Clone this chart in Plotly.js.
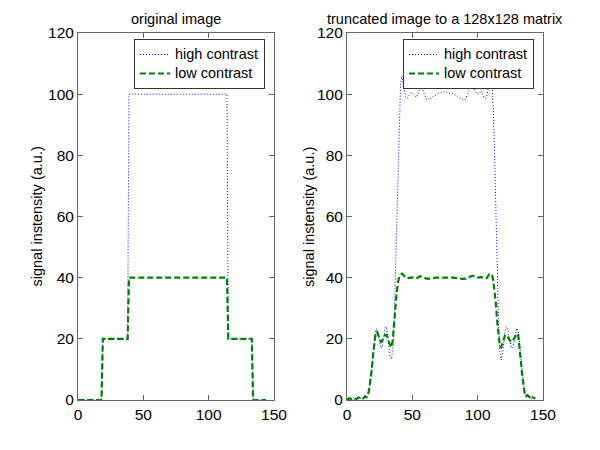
<!DOCTYPE html>
<html>
<head>
<meta charset="utf-8">
<script src="https://cdn.plot.ly/plotly-3.0.1.min.js"></script>
<style>html,body{margin:0;padding:0;background:#fff;}#chart{width:600px;height:450px;}</style>
</head>
<body>
<div id="chart"></div>
<script>
// Left panel: original image profile (step function breakpoints)
const xOrig = [0, 18, 19, 38, 39, 114, 115, 133, 134, 144];
const highOrig = [0, 0, 20, 20, 100, 100, 20, 20, 0, 0];
const lowOrig = [0, 0, 20, 20, 40, 40, 20, 20, 0, 0];

// Right panel: truncated image (128x128) profile
const xTrunc = [
  0,1,2,3,4,5,6,7,8,9,
  10,11,12,13,14,15,16,17,18,19,
  20,21,22,23,24,25,26,27,28,29,
  30,31,32,33,34,35,36,37,38,39,
  40,41,42,43,44,45,46,47,48,49,
  50,51,52,53,54,55,56,57,58,59,
  60,61,62,63,64,65,66,67,68,69,
  70,71,72,73,74,75,76,77,78,79,
  80,81,82,83,84,85,86,87,88,89,
  90,91,92,93,94,95,96,97,98,99,
  100,101,102,103,104,105,106,107,108,109,
  110,111,112,113,114,115,116,117,118,119,
  120,121,122,123,124,125,126,127,128,129,
  130,131,132,133,134,135,136,137,138,139,
  140,141,142,143,144
];
const highTrunc = [
  0.5,0.3,0.8,0.2,0.6,0.9,0.4,0.2,0.7,1.0,
  0.6,0.3,0.5,1.2,1.5,1.0,1.5,3.5,6.5,10.5,
  15.5,20,23,23.3,21.5,18.5,16.9,17.5,20,23,
  24,22,17.5,14.5,13.4,16,24,40,60,80,
  95,103,106,103.5,100.3,98.8,98.6,99.2,100.2,100.5,
  100.3,99.8,99.2,99,99.8,101.2,101.9,101.8,101.4,100.3,
  99,98.1,98.3,98.8,98.6,98.8,99.3,99.6,99.7,100,
  100.2,100.3,100.3,100.6,100.8,100.9,100.8,100.5,100.3,100.2,
  100.3,100.1,99.9,99.7,99.7,99.3,98.9,98.6,98.4,98.2,
  98.1,98.6,99.8,100.9,101.4,102,102.4,101.9,101,100.3,
  100.2,100.4,100.8,100.8,99.8,98.8,98.6,99.5,101.8,104.5,
  105.7,103,95,80,60,40,24,16,13.1,15,
  19,22.5,24,23,20.5,18,16.9,17.5,19.5,22,
  23.4,22.5,18.5,13,8.5,4.5,2,1.2,1.8,1.5,
  0.8,0.5,1.2,1.0,0.6
];
const lowTrunc = [
  0.4,0.3,0.6,0.2,0.5,0.7,0.4,0.3,0.6,0.8,
  0.5,0.3,0.4,0.9,1.2,0.9,1.5,3.5,6.5,10,
  15,19.5,22,22.3,21,19.8,19,19.4,20.5,21.2,
  21.3,20.5,19,18,17.2,19.5,25,31,35,38.5,
  40.3,41,41.3,41,40.4,39.9,39.8,39.9,40.1,40.2,
  40.1,40,39.8,39.8,40,40.3,40.5,40.4,40.3,40.1,
  39.8,39.6,39.6,39.7,39.7,39.8,39.9,39.9,40,40,
  40.1,40.1,40.1,40.2,40.2,40.2,40.2,40.1,40.1,40,
  40.1,40,40,39.9,39.9,39.8,39.7,39.7,39.6,39.6,
  39.6,39.7,40,40.2,40.4,40.5,40.6,40.5,40.3,40.1,
  40,40.1,40.2,40.2,40,39.8,39.7,39.9,40.5,41.2,
  41.3,40.8,39,35.5,31,25.5,20,17.5,17.2,18.5,
  20.3,21.2,21.3,20.8,20,19.3,19,19.4,20.3,21.3,
  21.8,21.3,18,13,8.5,4.5,2,1.2,1.6,1.3,
  0.7,0.4,0.9,0.8,0.5
];

const seriesNames = ['high contrast', 'low contrast'];
const panelTitles = ['original image', 'truncated image to a 128x128 matrix'];
const yLabel = 'signal instensity (a.u.)';

const FONT = 'Liberation Sans, Arial, sans-serif';
const BLUE = '#0000ff';
const GREEN = '#008000';
const DOT = '1px,2px';
const DASH = '6px,3px';

function legendName(s) {
  return '<span style="font-size:14.5px">' + s + '</span>';
}

const traces = [
  {x: xOrig, y: highOrig, name: legendName(seriesNames[0]), xaxis: 'x', yaxis: 'y', legend: 'legend',
   mode: 'lines', line: {color: BLUE, width: 1, dash: DOT}},
  {x: xOrig, y: lowOrig, name: legendName(seriesNames[1]), xaxis: 'x', yaxis: 'y', legend: 'legend',
   mode: 'lines', line: {color: GREEN, width: 2.2, dash: DASH}},
  {x: xTrunc, y: highTrunc, name: legendName(seriesNames[0]), xaxis: 'x2', yaxis: 'y2', legend: 'legend2',
   mode: 'lines', line: {color: BLUE, width: 1, dash: DOT}},
  {x: xTrunc, y: lowTrunc, name: legendName(seriesNames[1]), xaxis: 'x2', yaxis: 'y2', legend: 'legend2',
   mode: 'lines', line: {color: GREEN, width: 2.2, dash: DASH}}
];

const axisCommon = {
  showline: true, linecolor: '#666', linewidth: 1, mirror: 'ticks',
  ticks: 'inside', ticklen: 5, tickcolor: '#666', tickwidth: 1,
  showgrid: false, zeroline: false,
  tickfont: {family: FONT, size: 15.5, color: '#000'}
};
function xax(domain) {
  return Object.assign({}, axisCommon, {domain: domain, range: [0, 150], tick0: 0, dtick: 50});
}
function yax(anchor) {
  return Object.assign({}, axisCommon, {
    domain: [0.1111, 0.9267], range: [0, 120], tick0: 0, dtick: 20, anchor: anchor
  });
}
const legendCommon = {
  bgcolor: '#fff', bordercolor: '#333', borderwidth: 1,
  font: {family: FONT, size: 11, color: '#000'},
  xanchor: 'left', yanchor: 'top', xref: 'paper', yref: 'paper',
  tracegroupgap: 0
};
const textFont = {family: FONT, size: 14.5, color: '#000'};

const layout = {
  width: 600, height: 450,
  margin: {l: 0, r: 0, t: 0, b: 0},
  paper_bgcolor: '#fff', plot_bgcolor: '#fff',
  showlegend: true,
  xaxis: Object.assign(xax([0.13, 0.4567]), {anchor: 'y'}),
  yaxis: yax('x'),
  xaxis2: Object.assign(xax([0.5783, 0.905]), {anchor: 'y2'}),
  yaxis2: yax('x2'),
  legend: Object.assign({}, legendCommon, {x: 0.2233, y: 0.9133}),
  legend2: Object.assign({}, legendCommon, {x: 0.6717, y: 0.9133}),
  annotations: [
    {text: panelTitles[0], xref: 'x domain', yref: 'y domain', x: 0.5, y: 1,
     xanchor: 'center', yanchor: 'bottom', yshift: 4, showarrow: false, font: textFont},
    {text: panelTitles[1], xref: 'x2 domain', yref: 'y2 domain', x: 0.5, y: 1,
     xanchor: 'center', yanchor: 'bottom', yshift: 4, showarrow: false, font: textFont},
    {text: yLabel, xref: 'x domain', yref: 'y domain', x: 0, y: 0.5, textangle: -90,
     xanchor: 'center', yanchor: 'middle', xshift: -41, showarrow: false, font: textFont},
    {text: yLabel, xref: 'x2 domain', yref: 'y2 domain', x: 0, y: 0.5, textangle: -90,
     xanchor: 'center', yanchor: 'middle', xshift: -37.5, showarrow: false, font: textFont}
  ]
};

Plotly.newPlot('chart', traces, layout, {staticPlot: true, displayModeBar: false});
</script>
</body>
</html>
